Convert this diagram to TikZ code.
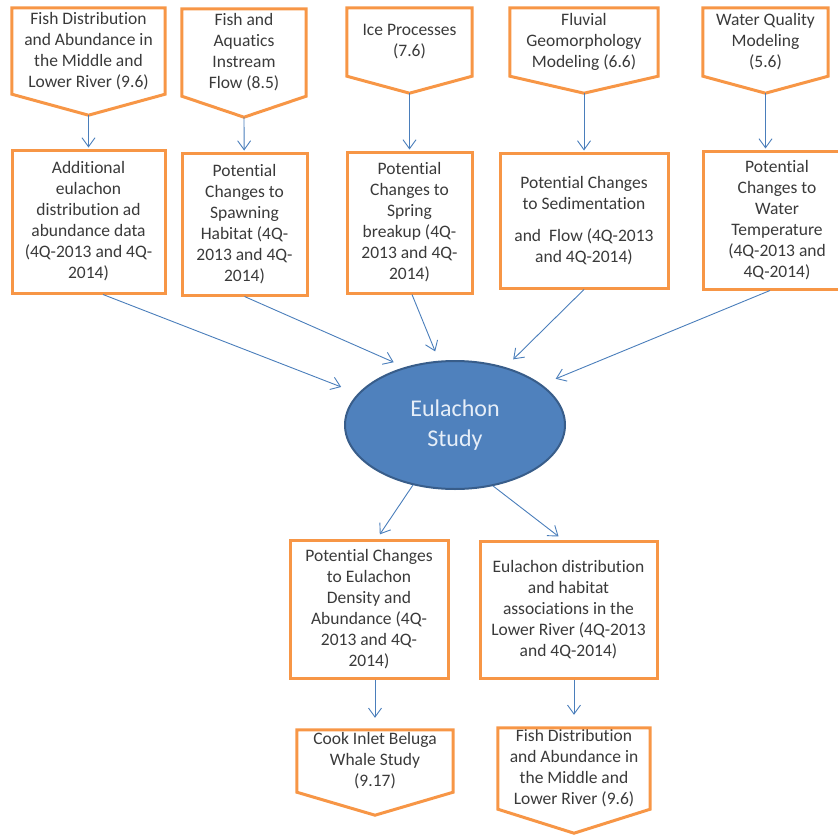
\documentclass[tikz,border=0pt]{standalone}
\usepackage{fontspec}
\setmainfont{Carlito}[Ligatures=CommonOff]
\usepackage{xcolor}
\usetikzlibrary{shapes.geometric,arrows.meta}
\definecolor{boxorange}{HTML}{F79646}
\definecolor{arrowblue}{HTML}{4A7EBB}
\definecolor{studyblue}{HTML}{4F81BD}
\definecolor{studyline}{HTML}{385D8A}
\definecolor{studytext}{HTML}{E6EEF8}
\definecolor{txtgray}{HTML}{3A3A3A}
\tikzstyle{box} = [rectangle, draw=boxorange, line width=3pt, fill=white, inner sep=0pt, align=center, text=txtgray, font=\fontsize{17.5}{21}\selectfont]
\tikzstyle{tag} = [rectangle, inner sep=0pt, align=center, text=txtgray, font=\fontsize{17.5}{21}\selectfont]
\tikzstyle{offpage} = [-, shorten >=0pt, draw=boxorange, line width=3pt, line join=miter]
\tikzstyle{study} = [ellipse, draw=studyline, line width=2pt, fill=studyblue, inner sep=0pt, align=center, text=studytext, font=\fontsize{24}{30}\selectfont]

\begin{document}
\begin{tikzpicture}[->,>={Straight Barb[length=9pt,width=13pt]},shorten >=1pt,x=1pt,y=-1pt,
  every edge/.style={draw=arrowblue, line width=0.9pt}]
  \useasboundingbox (0,0) rectangle (838,835);
  \clip (0,0) rectangle (838,835);

  % top row: other studies
  \node[tag, minimum width=153pt, minimum height=86pt] (f1) at (88.5,51) {Fish Distribution\\and Abundance in\\the Middle and\\Lower River (9.6)};
  \node[tag, minimum width=124pt, minimum height=87pt] (f2) at (244,52.5) {Fish and\\Aquatics\\Instream\\Flow (8.5)};
  \node[tag, minimum width=125pt, minimum height=68pt] (f3) at (409.5,42) {Ice Processes\\(7.6)};
  \node[tag, minimum width=148pt, minimum height=68pt] (f4) at (584,42) {Fluvial\\Geomorphology\\Modeling (6.6)};
  \node[tag, minimum width=125pt, minimum height=68pt] (f5) at (765.5,42) {Water Quality\\Modeling\\(5.6)};
  \coordinate (f1tip) at ([yshift=-21pt]f1.south);
  \coordinate (f2tip) at ([yshift=-21pt]f2.south);
  \coordinate (f3tip) at ([yshift=-17pt]f3.south);
  \coordinate (f4tip) at ([yshift=-17pt]f4.south);
  \coordinate (f5tip) at ([yshift=-17pt]f5.south);
  \draw[offpage] (f1.north west) -- (f1.north east) -- (f1.south east) -- (f1tip) -- (f1.south west) -- cycle;
  \draw[offpage] (f2.north west) -- (f2.north east) -- (f2.south east) -- (f2tip) -- (f2.south west) -- cycle;
  \draw[offpage] (f3.north west) -- (f3.north east) -- (f3.south east) -- (f3tip) -- (f3.south west) -- cycle;
  \draw[offpage] (f4.north west) -- (f4.north east) -- (f4.south east) -- (f4tip) -- (f4.south west) -- cycle;
  \draw[offpage] (f5.north west) -- (f5.north east) -- (f5.south east) -- (f5tip) -- (f5.south west) -- cycle;

  % middle row: inputs
  \node[box, minimum width=153pt, minimum height=143pt] (a1) at (88.5,221.5) {Additional\\eulachon\\distribution ad\\abundance data\\(4Q-2013 and 4Q-\\2014)};
  \node[box, minimum width=125pt, minimum height=142pt] (a2) at (244.5,224) {Potential\\Changes to\\Spawning\\Habitat (4Q-\\2013 and 4Q-\\2014)};
  \node[box, minimum width=125pt, minimum height=141pt] (a3) at (409.5,222.5) {Potential\\Changes to\\Spring\\breakup (4Q-\\2013 and 4Q-\\2014)};
  \node[box, minimum width=168pt, minimum height=135pt] (a4) at (584,220.5) {Potential Changes\\to Sedimentation\\[11pt]and~ Flow (4Q-2013\\and 4Q-2014)};
  \node[box, minimum width=148pt, minimum height=138pt] (a5) at (777,220) {Potential\\Changes to\\Water\\Temperature\\(4Q-2013 and\\4Q-2014)};

  \node[study, minimum width=220pt, minimum height=128pt] (eul) at (455,425) {Eulachon\\Study};

  % bottom: outputs
  \node[box, minimum width=158pt, minimum height=138pt] (b1) at (369,609) {Potential Changes\\to Eulachon\\Density and\\Abundance (4Q-\\2013 and 4Q-\\2014)};
  \node[box, minimum width=177pt, minimum height=137pt] (b2) at (568.5,609.5) {Eulachon distribution\\and habitat\\associations in the\\Lower River (4Q-2013\\and 4Q-2014)};

  \node[tag, minimum width=156pt, minimum height=62pt] (p1) at (375,761) {Cook Inlet Beluga\\Whale Study\\(9.17)};
  \node[tag, minimum width=152pt, minimum height=81pt] (p2) at (574,768.5) {Fish Distribution\\and Abundance in\\the Middle and\\Lower River (9.6)};
  \coordinate (p1tip) at ([yshift=-23pt]p1.south);
  \coordinate (p2tip) at ([yshift=-24pt]p2.south);
  \draw[offpage] (p1.north west) -- (p1.north east) -- (p1.south east) -- (p1tip) -- (p1.south west) -- cycle;
  \draw[offpage] (p2.north west) -- (p2.north east) -- (p2.south east) -- (p2tip) -- (p2.south west) -- cycle;

  \path (f1tip) edge (a1);
  \path (f2tip) edge (a2);
  \path (f3tip) edge (a3);
  \path (f4tip) edge (a4);
  \path (f5tip) edge (f5tip |- a5.north);

  \path ([xshift=14.5pt]a1.south) edge[shorten >=18pt] (eul.162);
  \path (a2.south) edge[shorten >=12pt] (eul.131);
  \path ([xshift=2.5pt]a3.south) edge[shorten >=10pt] (eul.104);
  \path (a4.south) edge[shorten >=11pt] (eul.49);
  \path ([xshift=-7pt]a5.south) edge[shorten >=15pt] (eul.25);

  \path (eul.235) edge[shorten >=5pt] ([xshift=8pt]b1.north);
  \path (eul.302) edge[shorten >=5pt] ([xshift=-6pt]b2.north);

  \path (b1.south -| p1.north) edge[shorten >=12pt] (p1.north);
  \path (b2.south -| p2.north) edge[shorten >=13pt] (p2.north);
\end{tikzpicture}
\end{document}
